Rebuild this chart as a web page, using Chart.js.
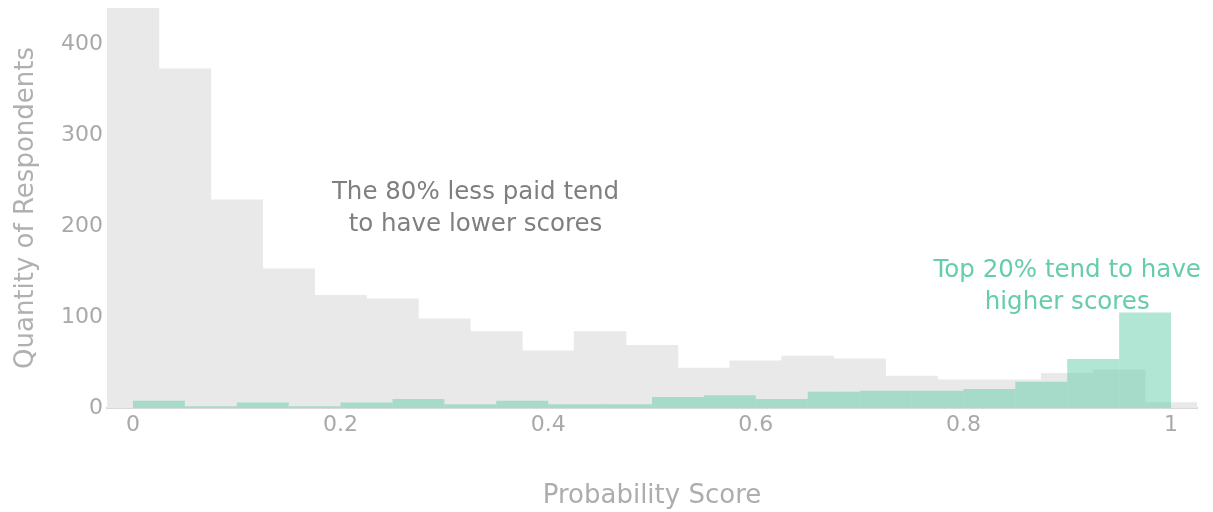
<!DOCTYPE html>
<html lang="en">
<head>
  <meta charset="UTF-8">
  <title>Probability Score histogram</title>
  <script src="https://cdn.jsdelivr.net/npm/chart.js"></script>
  <style>
    body { margin: 0; background: #fff; }
    #wrap { width: 1213px; height: 512px; }
  </style>
</head>
<body>
  <div id="wrap"><canvas id="myChart" width="1213" height="512"></canvas></div>
  <script>
    // bin centres (width 0.05) for the two groups
    const lowerCenters = [0, 0.05, 0.1, 0.15, 0.2, 0.25, 0.3, 0.35, 0.4, 0.45, 0.5,
                          0.55, 0.6, 0.65, 0.7, 0.75, 0.8, 0.85, 0.9, 0.95, 1.0];
    const lowerCounts  = [440, 373, 229, 153, 124, 120, 98, 84, 63, 84, 69,
                          44, 52, 57, 54, 35, 31, 31, 38, 42, 6];

    const topCenters = [0.025, 0.075, 0.125, 0.175, 0.225, 0.275, 0.325, 0.375, 0.425, 0.475,
                        0.525, 0.575, 0.625, 0.675, 0.725, 0.775, 0.825, 0.875, 0.925, 0.975];
    const topCounts  = [8, 2, 6, 2, 6, 10, 4, 8, 4, 4,
                        12, 14, 10, 18, 19, 19, 21, 29, 54, 105];

    const xTicks = [0, 0.2, 0.4, 0.6, 0.8, 1];
    const yTicks = [0, 100, 200, 300, 400];

    const notes = [
      { x: 0.33, y: 219, lines: ['The 80% less paid tend', 'to have lower scores'], color: '#7f7f7f' },
      { x: 0.9, y: 133, lines: ['Top 20% tend to have', 'higher scores'], color: '#66cdaa' }
    ];

    Chart.defaults.font.family = "'DejaVu Sans', Verdana, sans-serif";

    // draws the two text notes at data coordinates
    const notesPlugin = {
      id: 'notes',
      afterDatasetsDraw(chart) {
        const ctx = chart.ctx;
        const xs = chart.scales.x, ys = chart.scales.y;
        ctx.save();
        ctx.font = "24.5px 'DejaVu Sans'";
        ctx.textAlign = 'center';
        ctx.textBaseline = 'middle';
        notes.forEach(n => {
          const px = xs.getPixelForValue(n.x);
          const py = ys.getPixelForValue(n.y);
          const step = 32;
          const y0 = py - (n.lines.length - 1) * step / 2;
          ctx.fillStyle = n.color;
          n.lines.forEach((t, i) => ctx.fillText(t, px, y0 + i * step));
        });
        ctx.restore();
      }
    };

    const noEdgePadding = s => {
      s.paddingTop = 0; s.paddingBottom = 0;
      s.paddingLeft = 0; s.paddingRight = 0;
    };

    const ctx = document.getElementById('myChart').getContext('2d');
    const myChart = new Chart(ctx, {
      type: 'bar',
      data: {
        datasets: [
          {
            label: 'Top 20%',
            data: topCenters.map((c, i) => ({ x: c, y: topCounts[i] })),
            xAxisID: 'x2',
            backgroundColor: 'rgba(102, 205, 170, 0.5)',
            borderWidth: 0,
            inflateAmount: 0,
            order: 1
          },
          {
            label: 'Lower 80%',
            data: lowerCenters.map((c, i) => ({ x: c, y: lowerCounts[i] })),
            xAxisID: 'x',
            backgroundColor: '#e9e9e9',
            borderWidth: 0,
            order: 2
          }
        ]
      },
      options: {
        responsive: false,
        animation: false,
        grouped: false,
        barPercentage: 1,
        categoryPercentage: 1,
        layout: { padding: { top: 8, right: 16, left: 0, bottom: 0 } },
        plugins: {
          legend: { display: false },
          tooltip: { enabled: false }
        },
        scales: {
          x: {
            type: 'linear',
            position: 'bottom',
            min: -0.025,
            max: 1.025,
            offset: false,
            grid: { display: false, drawTicks: false, offset: false },
            border: { display: true, color: '#d9d9d9', width: 2 },
            afterBuildTicks: s => { s.ticks = xTicks.map(v => ({ value: v })); },
            ticks: {
              includeBounds: false,
              padding: 4,
              color: '#a9a9a9',
              font: { size: 22 },
              callback: v => String(+v.toFixed(2))
            },
            title: {
              display: true,
              text: 'Probability Score',
              color: '#adadad',
              font: { size: 26 },
              padding: { top: 0, bottom: 0 }
            },
            afterFit: s => { noEdgePadding(s); s.height = 104; }
          },
          x2: {
            type: 'linear',
            display: false,
            min: -0.025,
            max: 1.025,
            offset: false,
            afterBuildTicks: s => { s.ticks = xTicks.map(v => ({ value: v })); },
            ticks: { includeBounds: false }
          },
          y: {
            min: 0,
            max: 440,
            grid: { display: false, drawTicks: false },
            border: { display: false },
            afterBuildTicks: s => { s.ticks = yTicks.map(v => ({ value: v })); },
            ticks: {
              padding: 4,
              color: '#a9a9a9',
              font: { size: 22 }
            },
            title: {
              display: true,
              text: 'Quantity of Respondents',
              color: '#b0b0b0',
              font: { size: 26 },
              padding: { top: 11, bottom: 0 }
            },
            afterFit: s => { noEdgePadding(s); s.width = 107; }
          }
        }
      },
      plugins: [notesPlugin]
    });
  </script>
</body>
</html>
